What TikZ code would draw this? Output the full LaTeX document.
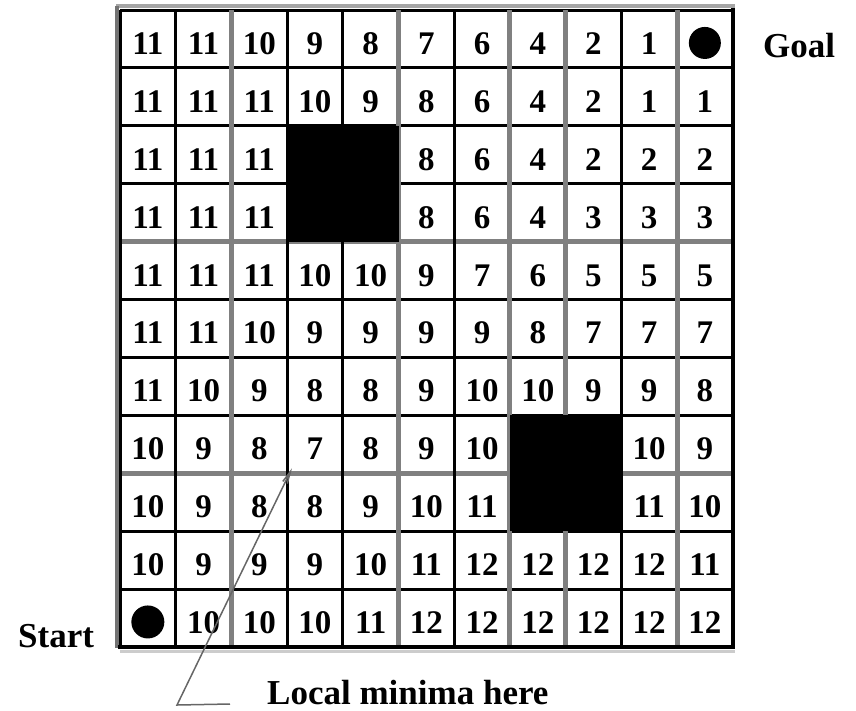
\documentclass[tikz,border=0pt]{standalone}
\usepackage{fontspec}
\setmainfont{Liberation Serif}
\usetikzlibrary{arrows.meta}

\begin{document}
\begin{tikzpicture}[x=1pt,y=-1pt,
every node/.append style={font=\bfseries\fontsize{33}{33}\selectfont},
cell/.style={minimum width=55.7pt,minimum height=57.9pt,inner sep=0pt,
text height=31pt,text depth=0pt},
blackline/.style={line width=3pt,black},
grayline/.style={line width=5pt,gray},
leader/.style={line width=1.5pt,gray!80!black},
label/.style={anchor=base west,inner sep=0pt,font=\bfseries\fontsize{35}{35}\selectfont}]
\useasboundingbox (0,0) rectangle (856,710);

% cost-to-goal values, top row first
\foreach \row [count=\r from 0] in {
{11,11,10,9,8,7,6,4,2,1,{}},
{11,11,11,10,9,8,6,4,2,1,1},
{11,11,11,{},{},8,6,4,2,2,2},
{11,11,11,{},{},8,6,4,3,3,3},
{11,11,11,10,10,9,7,6,5,5,5},
{11,11,10,9,9,9,9,8,7,7,7},
{11,10,9,8,8,9,10,10,9,9,8},
{10,9,8,7,8,9,10,{},{},10,9},
{10,9,8,8,9,10,11,{},{},11,10},
{10,9,9,9,10,11,12,12,12,12,11},
{{},10,10,10,11,12,12,12,12,12,12}}
  \foreach \v [count=\c from 0] in \row
    \node[cell] (c-\r-\c) at ({147.85+55.7*\c},{38.95+57.9*\r}) {\v};

% grid lines
\draw[gray!70,line width=4pt] (116,6) -- (735,6);
\draw[gray!40,line width=3pt] (120,651) -- (735,651);
\draw[gray!90!black,line width=4pt] (117,6) -- (117,648);
\foreach \j/\s in {0/blackline,1/blackline,2/blackline,3/blackline,
  4/grayline,5/blackline,6/blackline,7/blackline,8/grayline,
  9/blackline,10/blackline,11/blackline}
  \draw[\s] (120,{10+57.9*\j}) -- (733,{10+57.9*\j});
\foreach \i/\s in {0/blackline,1/blackline,2/grayline,3/blackline,
  4/blackline,5/grayline,6/blackline,7/grayline,8/grayline,
  9/blackline,10/grayline,11/blackline}
  \draw[\s] ({120+55.7*\i},10) -- ({120+55.7*\i},647);
\draw[line width=4pt] (733,8) -- (733,649);
\draw[line width=4pt] (118,647) -- (735,647);

% obstacles
\fill (c-2-3.north west) rectangle (c-3-4.south east);
\fill (c-7-7.north west) rectangle (c-8-8.south east);

% goal and start
\fill (c-0-10) ++(0,4) circle (16pt);
\fill (c-10-0) ++(0,4) circle (16.5pt);
\node[label] (goal) at (763,57) {Goal};
\node[label] (start) at (18,647) {Start};
\node[label] (minima) at (267,704) {Local minima here};

% leader to the local minimum
\coordinate (bend) at (177,705);
\draw[leader,{Straight Barb[length=12pt,width=5pt]}-]
  ([shift={(5pt,5pt)}]c-7-3.south west) -- (bend) -- ([xshift=-37pt]minima.base west);
\end{tikzpicture}
\end{document}
